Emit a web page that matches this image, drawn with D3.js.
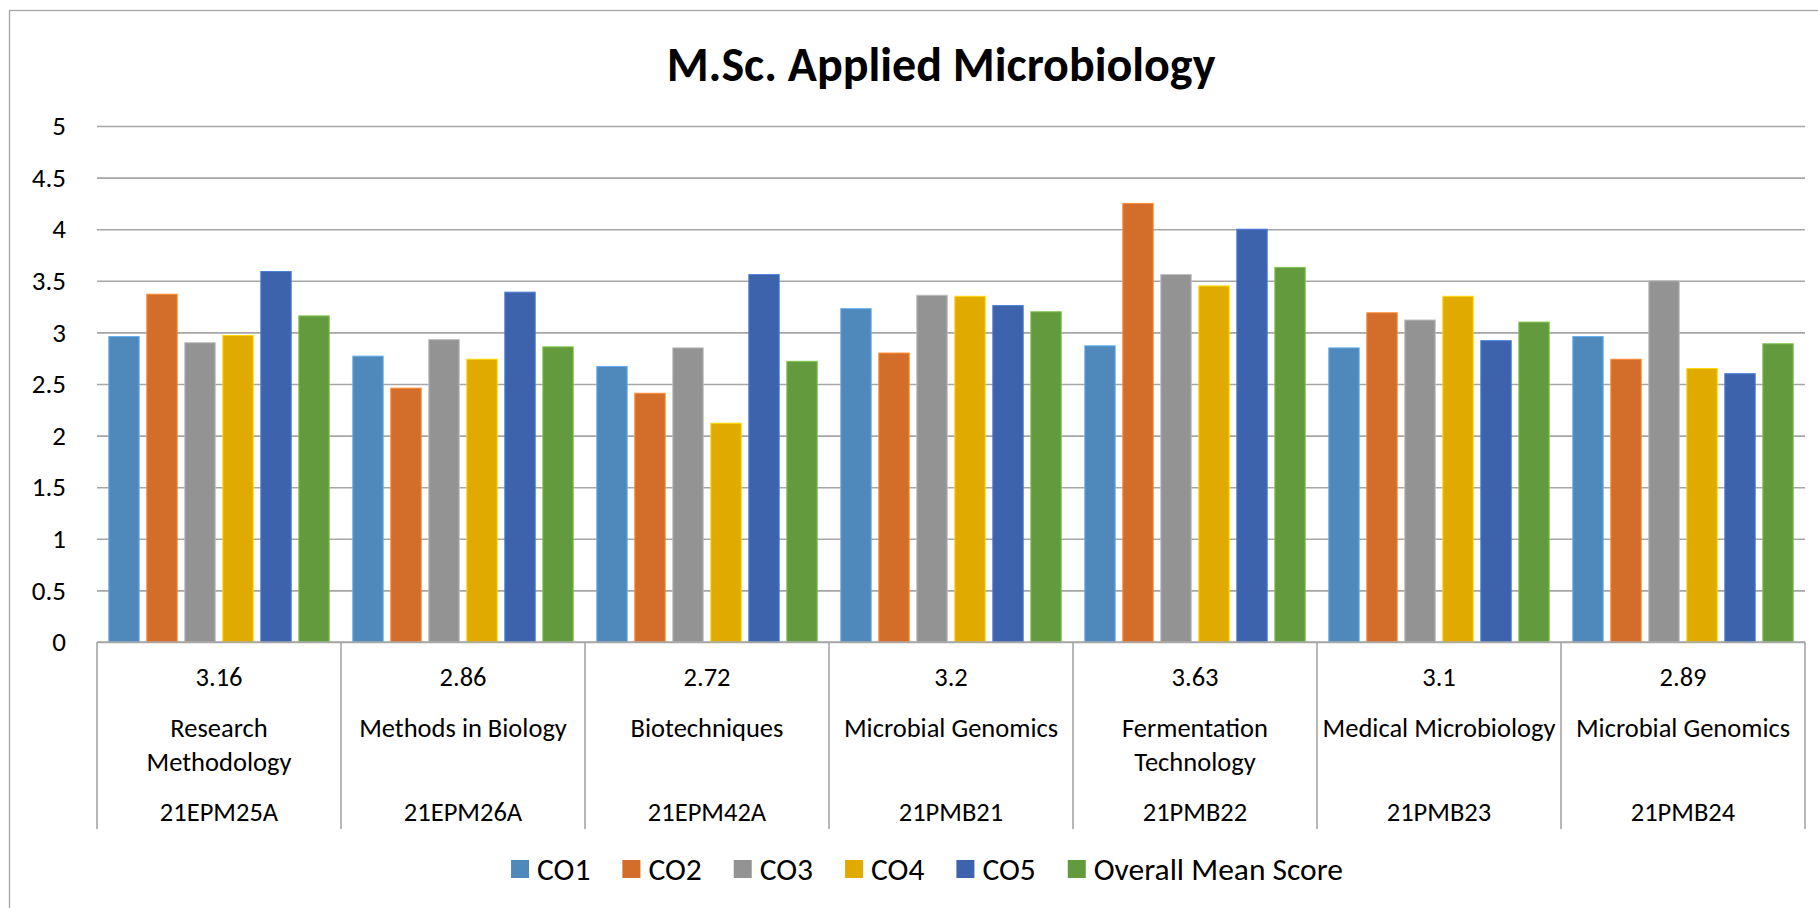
<!DOCTYPE html>
<html>
<head>
<meta charset="utf-8">
<script src="https://cdn.jsdelivr.net/npm/d3@7"></script>
<style>
  body { margin: 0; background: #fff; }
  text { font-family: Carlito, Lato, "Noto Sans", sans-serif; fill: #000; }
</style>
</head>
<body>
<div id="grafico"></div>
<script>
// --- data ---
const codes = ["21EPM25A", "21EPM26A", "21EPM42A", "21PMB21", "21PMB22", "21PMB23", "21PMB24"];
const courses = ["Research\nMethodology", "Methods in Biology", "Biotechniques", "Microbial Genomics",
                 "Fermentation\nTechnology", "Medical Microbiology", "Microbial Genomics"];
const seriesNames = ["CO1", "CO2", "CO3", "CO4", "CO5", "Overall Mean Score"];
const co1 = [2.96, 2.77, 2.67, 3.23, 2.87, 2.85, 2.96];
const co2 = [3.37, 2.46, 2.41, 2.80, 4.25, 3.19, 2.74];
const co3 = [2.90, 2.93, 2.85, 3.36, 3.56, 3.12, 3.50];
const co4 = [2.97, 2.74, 2.12, 3.35, 3.45, 3.35, 2.65];
const co5 = [3.59, 3.39, 3.56, 3.26, 4.00, 2.92, 2.60];
const overallMean = [3.16, 2.86, 2.72, 3.2, 3.63, 3.1, 2.89];
const yTicks = [0, 0.5, 1, 1.5, 2, 2.5, 3, 3.5, 4, 4.5, 5];
const colours = ["#4f89bc", "#d36d2a", "#939393", "#e1aa00", "#3c63ab", "#639a3e"];

const allSeries = [co1, co2, co3, co4, co5, overallMean];
const rows = codes.map((c, i) => ({
  code: c,
  course: courses[i],
  mean: overallMean[i],
  values: seriesNames.map((s, k) => ({ serie: s, value: allSeries[k][i] }))
}));

// --- layout ---
const W = 1818, H = 908;
const plot = { left: 97, right: 1805, top: 126, bottom: 642 };

const svg = d3.select("#grafico").append("svg")
  .attr("width", W).attr("height", H);

// chart frame (runs off the right/bottom edge in the original)
svg.append("rect")
  .attr("x", 9.5).attr("y", 10.5)
  .attr("width", W).attr("height", H)
  .attr("fill", "none").attr("stroke", "#a6a6a6").attr("stroke-width", 1.3);

svg.append("text")
  .attr("x", 941).attr("y", 81)
  .attr("text-anchor", "middle")
  .style("font-weight", "bold").style("font-size", "48px")
  .text("M.Sc. Applied Microbiology");

// scales
const x0 = d3.scaleBand().domain(codes).range([plot.left, plot.right]).padding(0);
const x1 = d3.scaleBand().domain(seriesNames).range([0, x0.bandwidth()])
  .paddingInner(0.2).paddingOuter(0.31);
const y = d3.scaleLinear().domain([0, 5]).range([plot.bottom, plot.top]);
const colore = d3.scaleOrdinal(seriesNames, colours);

// y axis + gridlines
const asseY = svg.append("g")
  .attr("transform", `translate(${plot.left},0)`)
  .call(d3.axisLeft(y).tickValues(yTicks).tickFormat(d3.format(""))
    .tickSize(-(plot.right - plot.left)).tickPadding(31));
asseY.select(".domain").remove();
asseY.selectAll(".tick line").attr("stroke", "#a6a6a6").attr("stroke-width", 1.6);
asseY.selectAll(".tick text").style("font-size", "27px").attr("fill", "#000");

// bars
const gruppi = svg.append("g").selectAll("g")
  .data(rows)
  .join("g")
    .attr("transform", d => `translate(${x0(d.code)},0)`);

gruppi.selectAll("rect")
  .data(d => d.values)
  .join("rect")
    .attr("x", d => x1(d.serie))
    .attr("y", d => y(d.value))
    .attr("width", x1.bandwidth())
    .attr("height", d => y(0) - y(d.value))
    .attr("fill", d => colore(d.serie))
    .attr("stroke", d => d3.color(colore(d.serie)).brighter(0.7))
    .attr("stroke-width", 1);

// category axis: base line + dividers
const asseX = svg.append("g");
asseX.append("line")
  .attr("x1", plot.left).attr("x2", plot.right)
  .attr("y1", plot.bottom).attr("y2", plot.bottom)
  .attr("stroke", "#a6a6a6").attr("stroke-width", 1.6);

const bordi = codes.map(c => x0(c)).concat([plot.right]);
asseX.selectAll("line.div")
  .data(bordi)
  .join("line")
    .attr("class", "div")
    .attr("x1", d => d).attr("x2", d => d)
    .attr("y1", plot.bottom).attr("y2", 829)
    .attr("stroke", "#a6a6a6").attr("stroke-width", 1.6);

// three label rows per category
const etichette = asseX.selectAll("g.cat")
  .data(rows)
  .join("g")
    .attr("class", "cat")
    .attr("transform", d => `translate(${x0(d.code) + x0.bandwidth() / 2},0)`)
    .style("font-size", "26.5px")
    .attr("text-anchor", "middle");

etichette.append("text")
  .attr("y", 677).attr("dominant-baseline", "central")
  .text(d => String(d.mean));

etichette.each(function(d) {
  const linee = d.course.split("\n");
  d3.select(this).selectAll("text.course")
    .data(linee)
    .join("text")
      .attr("class", "course")
      .attr("y", (l, i) => 728 + i * 33.5)
      .attr("dominant-baseline", "central")
      .text(l => l);
});

etichette.append("text")
  .attr("y", 812).attr("dominant-baseline", "central")
  .text(d => d.code);

// legend
const legenda = svg.append("g");
let cursore = 0;
seriesNames.forEach(s => {
  const item = legenda.append("g").attr("transform", `translate(${cursore},0)`);
  item.append("rect")
    .attr("x", 0).attr("y", -9).attr("width", 18).attr("height", 18)
    .attr("fill", colore(s));
  const t = item.append("text")
    .attr("x", 26).attr("y", 0)
    .attr("dominant-baseline", "central")
    .style("font-size", "31.5px")
    .text(s);
  cursore += 26 + t.node().getComputedTextLength() + 32;
});
const larghezza = cursore - 32;
legenda.attr("transform", `translate(${927 - larghezza / 2},869)`);
</script>
</body>
</html>
